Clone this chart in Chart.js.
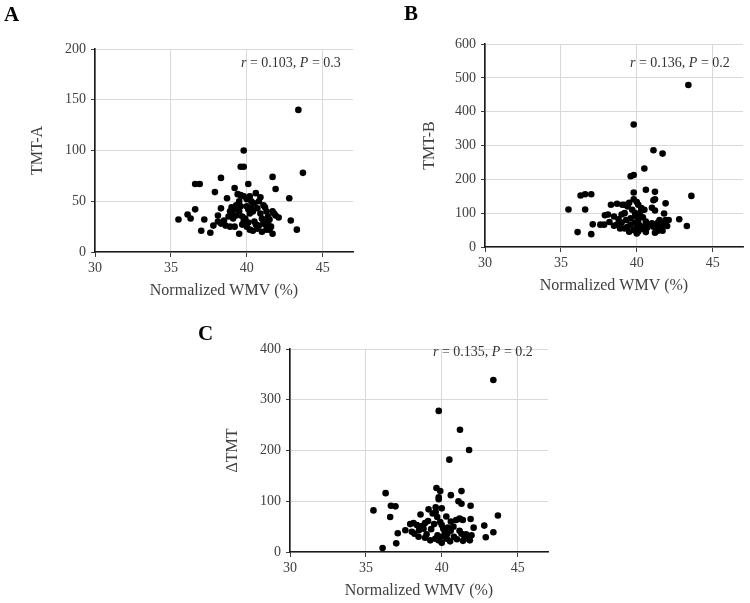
<!DOCTYPE html>
<html>
<head>
<meta charset="utf-8">
<script src="https://cdn.jsdelivr.net/npm/chart.js@4/dist/chart.umd.min.js"></script>
<style>
  html, body { margin: 0; padding: 0; background: #fff; width: 750px; height: 603px; overflow: hidden; }
  canvas { position: absolute; }
  .lbl { position: absolute; font-family: "Liberation Serif", "Times New Roman", serif; font-weight: bold; font-size: 21px; line-height: 21px; color: #000; }
  .stat { position: absolute; font-family: "Liberation Serif", "Times New Roman", serif; font-size: 14px; line-height: 14px; color: #333; white-space: nowrap; }
</style>
</head>
<body>
<canvas id="cA" width="370" height="302" style="left:0px;top:0px"></canvas>
<canvas id="cB" width="360" height="297" style="left:390px;top:0px"></canvas>
<canvas id="cC" width="370" height="302" style="left:195px;top:300px"></canvas>
<div class="lbl" style="left:4px;top:4px">A</div>
<div class="lbl" style="left:404px;top:3px">B</div>
<div class="lbl" style="left:198px;top:323px">C</div>
<div class="stat" style="left:241px;top:56px"><i>r</i> = 0.103, <i>P</i> = 0.3</div>
<div class="stat" style="left:630px;top:56px"><i>r</i> = 0.136, <i>P</i> = 0.2</div>
<div class="stat" style="left:433px;top:345px"><i>r</i> = 0.135, <i>P</i> = 0.2</div>
<script>
// ---- Panel A: TMT-A vs normalized WMV ----
const wmvA = [43.4,39.8,39.6,39.8,43.7,41.7,36.6,36.9,38.3,40.1,37.9,41.9,39.2,38.7,42.8,35.5,36.1,36.3,36.6,37.0,37.2,37.6,37.8,38.1,38.3,39.5,41.7,42.9,43.3,42.1,40.9,40.6,
  38.1,38.3,38.6,38.9,39.2,38.5,38.8,39.0,39.2,39.3,39.1,39.5,39.6,39.7,39.8,39.9,40.0,39.9,40.0,40.1,40.2,40.3,40.4,40.5,40.6,40.2,40.4,40.7,40.5,40.7,40.8,40.9,41.0,41.1,41.2,41.0,41.3,41.1,41.2,41.4,41.5,41.3,41.6,41.4,41.7,41.8,41.9,41.5,39.5,39.6,40.0,40.2,39.3,39.0,38.9,39.8,40.3,39.4,41.2,40.8,39.7,40.1];
const tmtA = [140,100,84,84,78,74,67,67,73,67,59,62,63,53,53,32,37,33,42,21,32,19,26,36,43,18,18,31,22,34,54,58,
  30,28,26,25,25,31,35,38,42,36,33,40,45,35,30,28,25,33,45,42,38,44,40,30,27,22,21,23,48,43,50,38,33,30,27,20,22,46,44,35,32,40,25,28,40,38,36,22,50,56,52,55,46,44,40,55,50,57,30,26,27,29];

// ---- Panel B: TMT-B vs normalized WMV ----
const wmvB = [43.4,39.8,41.1,41.7,40.5,39.6,39.8,43.6,36.3,36.6,37.0,35.5,36.6,36.1,37.0,37.1,40.6,41.2,39.8,41.9,41.1,41.2,43.3,42.8,42.1,41.8,41.7,41.4,41.6,
  37.6,37.85,37.9,38.1,38.3,38.7,39.05,38.2,38.5,38.7,38.9,39.2,39.2,39.4,39.2,39.0,39.5,39.8,40.0,40.1,39.6,39.9,40.1,40.3,39.6,39.9,40.2,40.4,40.6,39.5,39.8,40.1,40.5,40.7,41.0,41.2,41.5,41.9,41.3,41.4,41.5,41.2,41.6,41.8,42.0,40.0,40.3,40.5,40.2,40.4,40.6,40.8,41.0,39.3,39.0,38.8,39.7,39.9,40.0,40.6,41.1,39.4,38.5];
const tmtB = [479,362,286,276,232,209,213,151,152,156,156,111,111,44,38,67,169,163,161,129,138,141,62,82,80,99,48,72,71,
  66,66,94,96,125,128,125,74,63,66,55,55,125,120,100,96,131,141,133,125,85,92,80,108,66,72,64,54,61,45,50,46,52,58,116,108,80,80,55,48,60,42,52,68,62,40,115,110,95,88,75,66,70,80,72,82,110,100,56,44,60,60,90];

// ---- Panel C: ΔTMT vs normalized WMV ----
const wmvC = [43.4,39.8,41.2,41.8,40.5,39.65,39.9,39.8,39.8,40.6,41.3,41.1,41.3,41.9,43.7,42.8,42.9,43.4,42.1,41.9,41.2,36.3,35.5,36.6,36.65,36.95,36.1,37.0,37.1,
  37.6,37.92,38.14,38.36,38.03,38.5,38.7,38.9,39.1,38.6,39.13,38.47,38.9,39.24,39.4,39.6,39.7,39.9,40.0,40.1,40.2,39.57,39.79,40.0,40.33,40.55,39.72,40.37,40.59,40.77,40.95,41.17,41.39,41.17,41.3,41.5,41.7,41.85,41.96,
  40.0,40.2,40.4,39.3,39.0,39.5,40.8,41.0,41.4,41.6,40.6,40.3,39.6,40.0,38.2,38.8];
const dTMT = [339,278,241,201,182,126,120,108,104,112,120,100,95,91,72,52,29,39,48,65,65,116,82,69,91,90,8,17,37,
  43,55,57,53,40,43,51,57,61,74,84,30,28,23,76,79,69,59,53,46,40,26,23,18,26,21,33,36,42,50,63,66,63,42,36,29,26,23,33,
  30,33,48,45,35,55,30,25,22,35,60,70,88,86,36,46];

const SERIF = '"Liberation Serif", "Times New Roman", serif';
const TXT = '#404040';

function pts(xs, ys) { return xs.map((x, i) => ({ x: x, y: ys[i] })); }

function makeChart(id, xs, ys, yMax, yStep, yTitle, padTop, padRight, titleOffset) {
  return new Chart(document.getElementById(id), {
    type: 'scatter',
    data: { datasets: [{ data: pts(xs, ys), backgroundColor: '#000', borderWidth: 0, pointRadius: 3.3, pointHoverRadius: 3.3 }] },
    options: {
      responsive: false, animation: false, devicePixelRatio: 1,
      events: [],
      layout: { padding: { top: padTop, right: padRight, left: 0, bottom: 0 } },
      plugins: { legend: { display: false }, tooltip: { enabled: false } },
      scales: {
        x: {
          type: 'linear', min: 30, max: 47,
          afterFit: s => { s.height = 50; },
          ticks: { stepSize: 5, includeBounds: false, padding: 3, color: TXT, font: { family: SERIF, size: 14 },
                   callback: v => (v % 5 === 0 ? v : '') },
          grid: { color: '#d9d9d9', tickColor: '#404040', tickLength: 5, lineWidth: 1 },
          border: { color: '#1a1a1a', width: 1.6 },
          title: { display: true, text: 'Normalized WMV (%)', color: TXT, font: { family: SERIF, size: 16 }, padding: { top: 0, bottom: 2 } }
        },
        y: {
          type: 'linear', min: 0, max: yMax,
          afterFit: s => { s.width = 95; },
          ticks: { stepSize: yStep, padding: 5, color: TXT, font: { family: SERIF, size: 14 } },
          grid: { color: '#d9d9d9', tickColor: '#404040', tickLength: 4, lineWidth: 1 },
          border: { color: '#1a1a1a', width: 1.6 },
          title: { display: true, text: yTitle, color: TXT, font: { family: SERIF, size: 16 }, padding: { top: 95 - titleOffset - 9.6, bottom: 0 } }
        }
      }
    }
  });
}

makeChart('cA', wmvA, tmtA, 200, 50, 'TMT-A', 49, 17, 57);
makeChart('cB', wmvB, tmtB, 600, 100, 'TMT-B', 44, 7, 55);
makeChart('cC', wmvC, dTMT, 400, 100, 'ΔTMT', 49, 17, 57);
</script>
</body>
</html>
